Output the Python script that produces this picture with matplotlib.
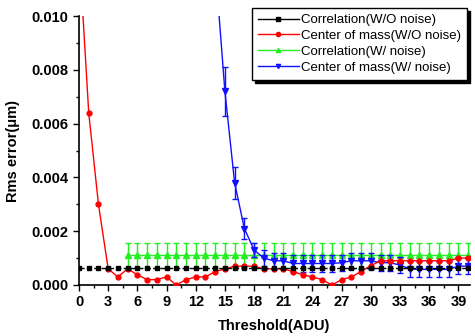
import numpy as np
import matplotlib.pyplot as plt
from matplotlib.lines import Line2D
from matplotlib.ticker import MultipleLocator

plt.rcParams['font.family'] = ['Liberation Sans', 'DejaVu Sans']

# threshold values (ADU)
x_all = list(range(0, 41))

# Correlation, without noise
corr_clean = [0.00063] * 41

# Center of mass, without noise
com_clean = [0.0125, 0.0064, 0.0030, 0.0006, 0.0003, 0.0006, 0.00038, 0.0002, 0.0002, 0.0003,
             0.0, 0.0002, 0.0003, 0.0003, 0.0005, 0.0006, 0.0007, 0.0007, 0.0007, 0.0006,
             0.0006, 0.0006, 0.0005, 0.00038, 0.0003, 0.0002, 0.0, 0.0002, 0.0003, 0.0005,
             0.00072, 0.0009, 0.0009, 0.0009, 0.0009, 0.0009, 0.0009, 0.0009, 0.0009, 0.001,
             0.001]

# Correlation, with noise (threshold 5..40)
x_noise = list(range(5, 41))
corr_noise = [0.0011] * 36
corr_noise_err = [0.00046] * 36

# Center of mass, with noise (threshold 14..40)
x_com_noise = list(range(14, 41))
com_noise = [0.0119, 0.0072, 0.0038, 0.0021, 0.0013, 0.0010, 0.0009, 0.0009, 0.0008, 0.0008,
             0.0008, 0.0008, 0.0008, 0.00083, 0.0009, 0.0009, 0.0009, 0.00083, 0.00083, 0.00074,
             0.0006, 0.00058, 0.00058, 0.00058, 0.00058, 0.0007, 0.0007]
com_noise_err = [0.0012, 0.0009, 0.0006, 0.0004, 0.00027, 0.0003, 0.0003, 0.0003, 0.0003, 0.0003,
                 0.0003, 0.0003, 0.0003, 0.0003, 0.0003, 0.0003, 0.0003, 0.0003, 0.0003, 0.0003,
                 0.0003, 0.0003, 0.0003, 0.0003, 0.0003, 0.0003, 0.0003]

labels = ['Correlation(W/O noise)', 'Center of mass(W/O noise)',
          'Correlation(W/ noise)', 'Center of mass(W/ noise)']
colors = ['black', 'red', '#22ee22', '#1010ff']
markers = ['s', 'o', '^', 'v']

fig = plt.figure(figsize=(4.75, 3.36), dpi=100)
ax = fig.add_axes([79 / 475, 1 - 285 / 336, (470 - 79) / 475, (285 - 16) / 336])

ax.plot(x_all, corr_clean, color=colors[0], ls='--', lw=1.0, marker=markers[0], ms=3.5, zorder=5)
ax.plot(x_all, com_clean, color=colors[1], lw=1.0, marker=markers[1], ms=3.5, zorder=4)
ax.errorbar(x_noise, corr_noise, yerr=corr_noise_err, color=colors[2], lw=1.0,
            marker=markers[2], ms=4, capsize=2.5, elinewidth=1.0, zorder=2)
ax.errorbar(x_com_noise, com_noise, yerr=com_noise_err, color=colors[3], lw=1.0,
            marker=markers[3], ms=4, capsize=2.5, elinewidth=1.0, zorder=3)

ax.set_xlim(0, 40.2)
ax.set_ylim(0, 0.010)
ax.xaxis.set_major_locator(MultipleLocator(3))
ax.xaxis.set_minor_locator(MultipleLocator(1.5))
ax.yaxis.set_major_locator(MultipleLocator(0.002))
ax.yaxis.set_minor_locator(MultipleLocator(0.001))
ax.yaxis.set_major_formatter(plt.FormatStrFormatter('%.3f'))

ax.spines['top'].set_visible(False)
ax.spines['right'].set_visible(False)
ax.spines['left'].set_linewidth(1.2)
ax.spines['bottom'].set_linewidth(1.2)
ax.tick_params(which='major', direction='out', length=4, width=1.0, labelsize=10.5)
ax.tick_params(which='minor', direction='out', length=2.5, width=1.0)
for lab in ax.get_xticklabels() + ax.get_yticklabels():
    lab.set_fontweight('bold')

ax.set_xlabel('Threshold(ADU)', fontsize=10.5, fontweight='bold', labelpad=7)
ax.set_ylabel('Rms error(\u03bcm)', fontsize=10.5, fontweight='bold', labelpad=8)

# legend handles without the error bars, like the original
handles = [Line2D([], [], color=c, lw=1.0, marker=m, ms=3) for c, m in zip(colors, markers)]
leg = fig.legend(handles, labels, loc='upper left', bbox_to_anchor=(252 / 475, 1 - 8 / 336),
                 fontsize=9.5, frameon=True, fancybox=False, borderaxespad=0,
                 handlelength=3.1, handletextpad=0.2, labelspacing=0.28, borderpad=0.45,
                 shadow={'color': 'black', 'alpha': 1})
leg.get_frame().set_edgecolor('black')
leg.get_frame().set_linewidth(1.0)

fig.savefig('out.png', dpi=100)
